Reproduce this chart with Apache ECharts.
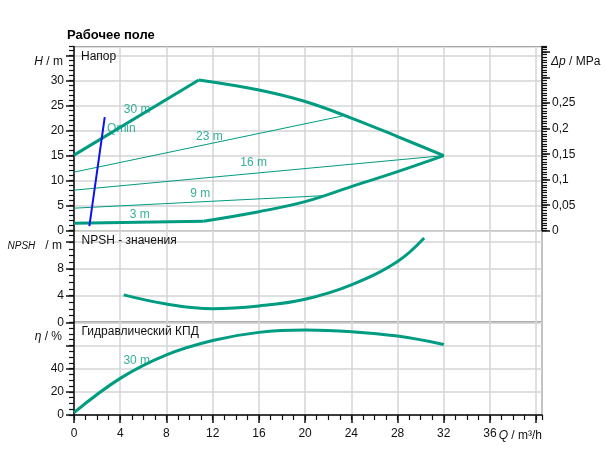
<!DOCTYPE html>
<html><head><meta charset="utf-8">
<script src="https://cdn.jsdelivr.net/npm/echarts@6/dist/echarts.min.js"></script>
<style>html,body{margin:0;padding:0;background:#fff}#c{width:607px;height:455px}</style>
</head><body><div id="c"></div>
<script>
// ---------- data ----------
const maxRiseQ = [0, 10.8];
const maxRiseH = [15.1, 30.1];
const maxCurveQ = [10.8, 16, 20, 24, 28, 32];
const maxCurveH = [30.1, 28.1, 25.8, 22.5, 18.8, 15.0];
const minFlatQ = [0, 11.2];
const minFlatH = [1.5, 1.9];
const minCurveQ = [11.2, 16, 20, 24, 28, 32];
const minCurveH = [1.9, 3.8, 5.8, 8.8, 11.8, 15.0];
const line23Q = [0, 23.2], line23H = [11.7, 22.9];
const line16Q = [0, 32],   line16H = [8.1, 15.0];
const line9Q  = [0, 21.6], line9H  = [4.5, 7.0];
const qminQ = [1.33, 2.66], qminH = [0.9, 22.7];
const npshQ = [4.3, 8, 12, 16, 20, 24, 28, 30.3];
const npshV = [4.1, 2.74, 2.04, 2.45, 3.45, 5.6, 9.1, 12.6];
const effQ = [0, 4, 8, 12, 16, 20, 24, 28, 32];
const effV = [2, 31.6, 51.9, 64.3, 71.3, 73.3, 71.9, 68.1, 60.9];
const headLabelText = ['30 m', 'Qmin', '23 m', '16 m', '9 m', '3 m'];
const headLabelQ = [5.46, 4.1, 11.72, 15.55, 10.92, 5.69];
const headLabelH = [24.1, 20.3, 18.8, 13.5, 7.34, 3.14];
const effLabelText = ['30 m'];
const effLabelQ = [5.43];
const effLabelV = [46.7];
const qTickLabels = [0, 4, 8, 12, 16, 20, 24, 28, 32, 36];
const hTickLabels = [0, 5, 10, 15, 20, 25, 30];
const pTickLabels = [0, 0.05, 0.1, 0.15, 0.2, 0.25];
const npshTickLabels = [0, 4, 8];
const effTickLabels = [0, 20, 40];

// ---------- helpers ----------
const zip = (a, b) => a.map((v, i) => [v, b[i]]);
const TEAL = '#009c82';
const FONT = 'Liberation Sans, Arial, sans-serif';
const GRID = '#d4d4d4';
const INK = '#111';
const has = (arr, v) => arr.some(t => Math.abs(t - v) < 1e-6);

const chart = echarts.init(document.getElementById('c'), null, {renderer: 'canvas'});

const gridCommon = {left: 74, right: 65, show: true, borderColor: '#222', borderWidth: 1, backgroundColor: 'transparent'};
const Q_MAX = 40.5;
function xAx(i, bottom) {
  return {
    type: 'value', gridIndex: i, min: 0, max: Q_MAX, interval: 4,
    splitLine: {show: true, lineStyle: {color: GRID, width: 1.5}},
    axisLine: {show: bottom, onZero: false, lineStyle: {color: INK, width: 1.5}},
    axisTick: {show: bottom, length: 8, lineStyle: {color: INK, width: 1.5}},
    axisLabel: {show: bottom, margin: 13, color: INK, fontSize: 12, fontFamily: FONT,
      showMaxLabel: false,
      formatter: v => has(qTickLabels, v) ? String(v) : ''}
  };
}
// axis carrying only short (minor) ticks
function minorX(i, step) {
  return {
    type: 'value', gridIndex: i, min: 0, max: Q_MAX, interval: step, position: 'bottom',
    splitLine: {show: false}, axisLine: {show: false, onZero: false}, axisLabel: {show: false},
    axisTick: {show: true, length: 5, lineStyle: {color: INK, width: 1.2}}
  };
}
function yAx(i, pos, min, max, interval, labels, fmt, split) {
  return {
    type: 'value', gridIndex: i, position: pos, min, max, interval,
    splitLine: {show: split, lineStyle: {color: GRID, width: 1.5}},
    axisLine: {show: true, onZero: false, lineStyle: {color: INK, width: 1.5}},
    axisTick: {show: true, length: 8, lineStyle: {color: INK, width: 1.5}},
    axisLabel: {margin: 10, color: INK, fontSize: 12, fontFamily: FONT,
      showMaxLabel: false,
      formatter: v => has(labels, v) ? fmt(v) : ''}
  };
}
function minorY(i, pos, min, max, step) {
  return {
    type: 'value', gridIndex: i, position: pos, min, max, interval: step,
    splitLine: {show: false}, axisLine: {show: false, onZero: false}, axisLabel: {show: false},
    axisTick: {show: true, length: 5, lineStyle: {color: INK, width: 1.2}}
  };
}
const line = (xi, yi, q, v, width, color, smooth, z) => ({
  type: 'line', xAxisIndex: xi, yAxisIndex: yi, data: zip(q, v), symbol: 'none',
  smooth: smooth ? 0.4 : false,
  lineStyle: {color, width}, z: z || 3, silent: true
});
const labels = (xi, yi, q, v, texts) => ({
  type: 'scatter', xAxisIndex: xi, yAxisIndex: yi, symbolSize: 0, silent: true, z: 5,
  data: q.map((x, i) => ({value: [x, v[i]], name: texts[i]})),
  label: {show: true, position: 'inside', formatter: p => p.name, color: TEAL, fontSize: 12, fontFamily: FONT}
});
const rt = (text, x, y, align, iSize) => ({
  type: 'text', x, y, z: 10,
  style: {text, align, verticalAlign: 'middle', fill: INK, font: '12px ' + FONT,
    rich: {i: {fontStyle: 'italic', fontSize: iSize || 12, fontFamily: FONT, fill: INK}}}
});

const H_MAX = 36.8, P_MAX = 36.8 / 101.9, NPSH_MAX = 13.7, EFF_MAX = 80;

const option = {
  animation: false,
  backgroundColor: '#fff',
  grid: [
    Object.assign({top: 46.5, height: 184.2}, gridCommon),
    Object.assign({top: 230.7, height: 91.6}, gridCommon),
    Object.assign({top: 322.3, height: 92.7}, gridCommon)
  ],
  xAxis: [xAx(0, false), xAx(1, false), xAx(2, true), minorX(2, 1)],
  yAxis: [
    yAx(0, 'left', 0, H_MAX, 5, hTickLabels, v => String(v), true),
    yAx(0, 'right', 0, P_MAX, 0.05, pTickLabels, v => String(+v.toFixed(2)).replace('.', ','), false),
    yAx(1, 'left', 0, NPSH_MAX, 4, npshTickLabels, v => String(v), true),
    yAx(2, 'left', 0, EFF_MAX, 20, effTickLabels, v => String(v), true),
    minorY(0, 'left', 0, H_MAX, 1),
    minorY(0, 'right', 0, P_MAX, 0.005),
    minorY(1, 'left', 0, NPSH_MAX, 1),
    minorY(2, 'left', 0, EFF_MAX, 5)
  ],
  series: [
    line(0, 0, line23Q, line23H, 1, TEAL, false),
    line(0, 0, line16Q, line16H, 1, TEAL, false),
    line(0, 0, line9Q, line9H, 1, TEAL, false),
    line(0, 0, maxRiseQ, maxRiseH, 3, TEAL, false),
    line(0, 0, maxCurveQ, maxCurveH, 3, TEAL, true),
    line(0, 0, minFlatQ, minFlatH, 3, TEAL, false),
    line(0, 0, minCurveQ, minCurveH, 3, TEAL, true),
    line(0, 0, qminQ, qminH, 2, '#0a14e6', false, 4),
    labels(0, 0, headLabelQ, headLabelH, headLabelText),
    line(1, 2, npshQ, npshV, 3, TEAL, true),
    line(2, 3, effQ, effV, 3, TEAL, true),
    labels(2, 3, effLabelQ, effLabelV, effLabelText)
  ],
  graphic: [
    {type: 'text', x: 67, y: 35, style: {text: 'Рабочее поле', font: 'bold 13px ' + FONT, fill: '#000', verticalAlign: 'middle'}},
    {type: 'text', x: 81, y: 56.5, z: 10, style: {text: 'Напор', font: '12px ' + FONT, fill: INK, verticalAlign: 'middle'}},
    {type: 'text', x: 81.5, y: 240.5, z: 10, style: {text: 'NPSH - значения', font: '12px ' + FONT, fill: INK, verticalAlign: 'middle'}},
    {type: 'text', x: 81.5, y: 332, z: 10, style: {text: 'Гидравлический КПД', font: '12px ' + FONT, fill: INK, verticalAlign: 'middle'}},
    rt('{i|H} / m', 63, 62, 'right'),
    rt('{i|Δp} / MPa', 551, 62, 'left'),
    rt('{i|NPSH}   / m', 62, 246, 'right', 10),
    rt('{i|η} / %', 62, 337, 'right'),
    rt('{i|Q} / m³/h', 542, 435.5, 'right')
  ]
};
chart.setOption(option);
</script>
</body></html>
